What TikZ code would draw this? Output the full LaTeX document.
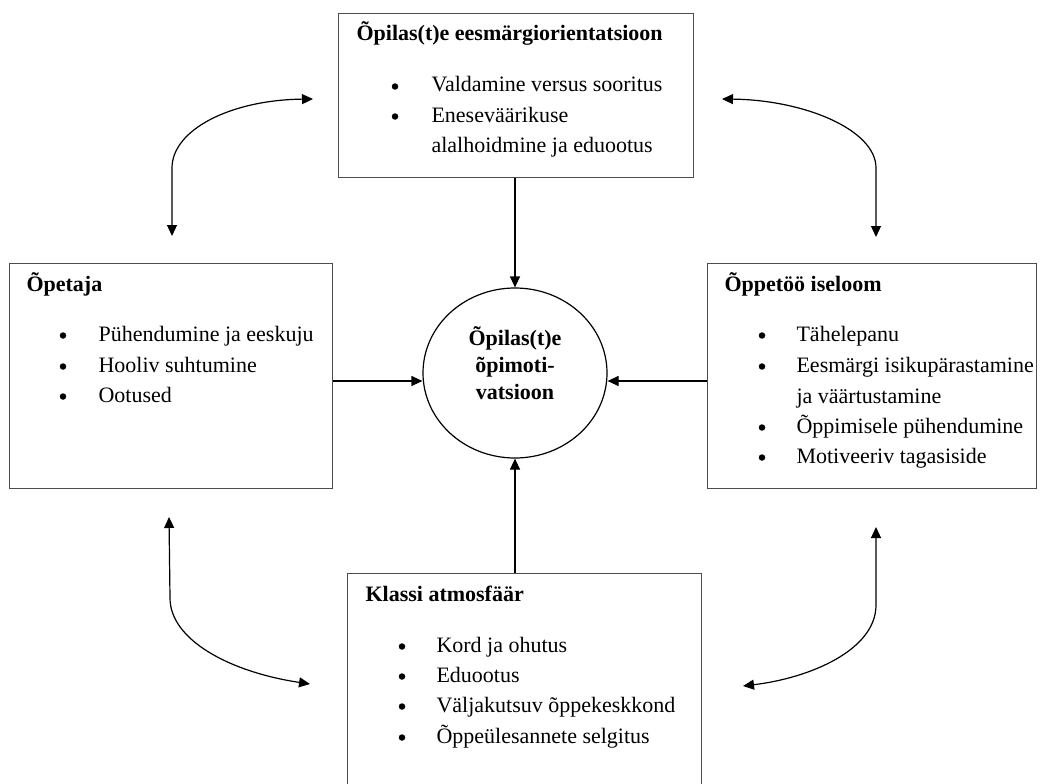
\documentclass[tikz,border=0pt]{standalone}
\usepackage{fontspec}
\setmainfont{Liberation Serif}
\usepackage{tikz}
\usetikzlibrary{arrows.meta,shapes.geometric}
\definecolor{boxgray}{rgb}{0.3,0.3,0.3}
\tikzset{
  factor/.style={rectangle, draw=boxgray, line width=1.4pt, anchor=north west, inner sep=0pt},
  head/.style={anchor=base west, font=\fontsize{22}{27}\selectfont\bfseries},
  itm/.style={anchor=base west},
  bul/.style={circle, fill, inner sep=0pt, minimum size=6.5pt, yshift=5.5pt},
  link/.style={-{Triangle[length=11pt,width=10pt]}, line width=1.2pt},
  twoway/.style={{Triangle[length=11pt,width=10pt]}-{Triangle[length=11pt,width=10pt]}, line width=1.2pt}
}

\begin{document}
\begin{tikzpicture}[x=1pt, y=-1pt, font=\fontsize{22}{27}\selectfont]
        \useasboundingbox (0, 0) rectangle (1041, 784);
        \clip (0, 0) rectangle (1041, 784);

        % centre
        \draw (515, 373) node(motiv)[ellipse, draw, line width=1.2pt, minimum width=184pt, minimum height=170pt, inner sep=0pt]{};
        \draw (515, 363) node(motivtxt)[align=center, font=\fontsize{22}{27}\selectfont\bfseries]{Õpilas(t)e\\õpimoti-\\vatsioon};

        % top box
        \draw (338, 13) node(goal)[factor, minimum width=355pt, minimum height=164pt]{};
        \draw (353, 41) node(goalh)[head]{Õpilas(t)e eesmärgiorientatsioon};
        \draw (395, 92) node(gb1)[bul]{} (428, 92) node(gt1)[itm]{Valdamine versus sooritus};
        \draw (395, 122) node(gb2)[bul]{} (428, 122) node(gt2)[itm]{Eneseväärikuse};
        \draw (428, 152) node(gt3)[itm]{alalhoidmine ja eduootus};

        % left box
        \draw (9, 263) node(opetaja)[factor, minimum width=323pt, minimum height=225pt]{};
        \draw (23, 291) node(opetajah)[head]{Õpetaja};
        \draw (63, 341) node(ob1)[bul]{} (95, 341) node(ot1)[itm]{Pühendumine ja eeskuju};
        \draw (63, 372) node(ob2)[bul]{} (95, 372) node(ot2)[itm]{Hooliv suhtumine};
        \draw (63, 402) node(ob3)[bul]{} (95, 402) node(ot3)[itm]{Ootused};

        % right box
        \draw (707, 263) node(iseloom)[factor, minimum width=329pt, minimum height=225pt]{};
        \draw (721, 291) node(iseloomh)[head]{Õppetöö iseloom};
        \draw (762, 341) node(ib1)[bul]{} (793, 341) node(it1)[itm]{Tähelepanu};
        \draw (762, 372) node(ib2)[bul]{} (793, 372) node(it2)[itm]{Eesmärgi isikupärastamine};
        \draw (793, 403) node(it3)[itm]{ja väärtustamine};
        \draw (762, 433) node(ib4)[bul]{} (793, 433) node(it4)[itm]{Õppimisele pühendumine};
        \draw (762, 463) node(ib5)[bul]{} (793, 463) node(it5)[itm]{Motiveeriv tagasiside};

        % bottom box
        \draw (347, 573) node(klass)[factor, minimum width=354pt, minimum height=240pt]{};
        \draw (362, 601) node(klassh)[head]{Klassi atmosfäär};
        \draw (402, 652) node(kb1)[bul]{} (433, 652) node(kt1)[itm]{Kord ja ohutus};
        \draw (402, 682) node(kb2)[bul]{} (433, 682) node(kt2)[itm]{Eduootus};
        \draw (402, 712) node(kb3)[bul]{} (433, 712) node(kt3)[itm]{Väljakutsuv õppekeskkond};
        \draw (402, 743) node(kb4)[bul]{} (433, 743) node(kt4)[itm]{Õppeülesannete selgitus};

        % straight arrows
        \coordinate (midrow) at (0, 381);
        \draw[link] (goal.south -| motiv) -- (motiv.north);
        \draw[link] (klass.north -| motiv) -- (motiv.south);
        \draw[link] (opetaja.east |- midrow) -- (midrow -| motiv.west);
        \draw[link] (iseloom.west |- midrow) -- (midrow -| motiv.east);

        % curved arrows
        \coordinate (tlA) at (313, 99);
        \coordinate (tlB) at (172, 236);
        \coordinate (trA) at (722, 99);
        \coordinate (trB) at (876, 237);
        \coordinate (blA) at (169, 517);
        \coordinate (blB) at (310, 684);
        \coordinate (brA) at (876, 527);
        \coordinate (brB) at (743, 686);
        \draw[twoway] (tlA) .. controls (230, 100) and (172, 130) .. (172, 168) -- (tlB);
        \draw[twoway] (trA) .. controls (805, 100) and (876, 130) .. (876, 168) -- (trB);
        \draw[twoway] (blA) -- (170, 598) .. controls (170, 640) and (230, 672) .. (blB);
        \draw[twoway] (brA) -- (876, 605) .. controls (876, 650) and (810, 678) .. (brB);
    \end{tikzpicture}
\end{document}
